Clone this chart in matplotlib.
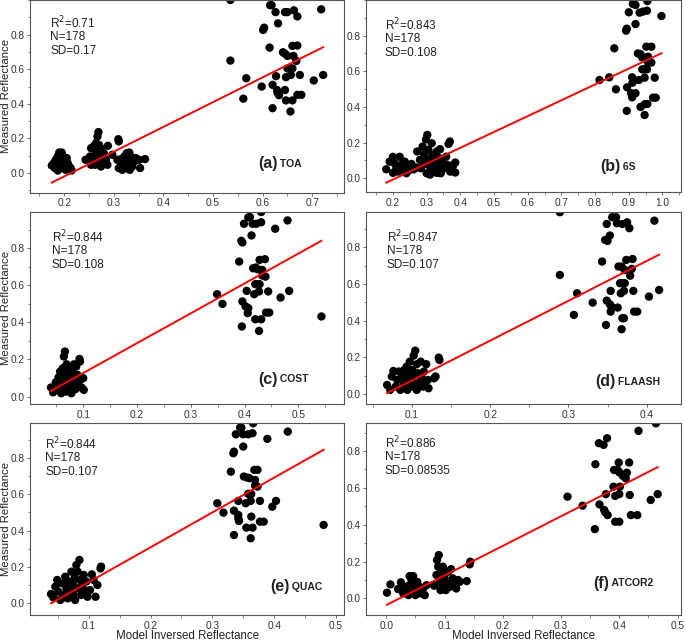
import numpy as np
import matplotlib
matplotlib.use("Agg")
import matplotlib.pyplot as plt
from matplotlib.ticker import MultipleLocator, FixedLocator, FormatStrFormatter

plt.rcParams['font.family'] = ['Liberation Sans', 'DejaVu Sans']

# (a) TOA
a_x = [0.175, 0.183, 0.187, 0.19, 0.195, 0.197, 0.199, 0.181, 0.187, 0.192, 0.2, 0.203, 0.207, 0.21, 0.213,
       0.215, 0.205, 0.193, 0.187, 0.179,
       0.243, 0.252, 0.254, 0.259, 0.264, 0.267, 0.269, 0.267, 0.27, 0.274, 0.264, 0.259, 0.262, 0.274, 0.277,
       0.28, 0.284, 0.287, 0.288, 0.297, 0.274, 0.254, 0.268,
       0.309, 0.31, 0.307, 0.31, 0.317, 0.321, 0.326, 0.331, 0.334, 0.329, 0.323, 0.332, 0.337, 0.341, 0.344,
       0.351, 0.353, 0.363, 0.317, 0.314,
       0.535, 0.535, 0.567, 0.561, 0.598, 0.614, 0.601, 0.603, 0.615, 0.618, 0.626, 0.631, 0.645, 0.65, 0.663,
       0.67, 0.718, 0.62, 0.62, 0.629, 0.63, 0.633, 0.641, 0.645, 0.65, 0.647, 0.645, 0.647, 0.65, 0.655, 0.66,
       0.657, 0.656, 0.66, 0.66, 0.662, 0.668, 0.67, 0.675, 0.67, 0.678, 0.703, 0.722, 0.627]
a_y = [0.044, 0.077, 0.096, 0.119, 0.119, 0.096, 0.077, 0.029, 0.015, 0.029, 0.042, 0.019, 0.058, 0.038, 0.029,
       0.015, 0.087, 0.058, 0.048, 0.058,
       0.077, 0.096, 0.144, 0.154, 0.173, 0.212, 0.237, 0.135, 0.163, 0.144, 0.115, 0.087, 0.048, 0.096, 0.058,
       0.115, 0.077, 0.048, 0.158, 0.106, 0.038, 0.048, 0.087,
       0.196, 0.183, 0.077, 0.029, 0.058, 0.096, 0.115, 0.119, 0.096, 0.058, 0.029, 0.019, 0.038, 0.067, 0.087,
       0.077, 0.029, 0.081, 0.019, 0.08,
       1.0, 0.65, 0.548, 0.43, 0.5, 0.725, 0.827, 0.84, 0.97, 0.97, 0.93, 0.865, 0.93, 0.93, 0.94,
       0.905, 0.946, 0.51, 0.375, 0.48, 0.465, 0.45, 0.698, 0.69, 0.677, 0.554, 0.48, 0.42, 0.605, 0.605, 0.605,
       0.567, 0.356, 0.735, 0.42, 0.677, 0.648, 0.737, 0.567, 0.452, 0.452, 0.535, 0.567, 0.56]

# (b) 6S
b_x = [0.18, 0.19, 0.2, 0.205, 0.21, 0.215, 0.22, 0.225, 0.23, 0.235, 0.24, 0.245, 0.25, 0.255, 0.262,
       0.272, 0.28, 0.283, 0.288, 0.292, 0.295, 0.298, 0.302, 0.3, 0.305, 0.308, 0.31, 0.315, 0.318, 0.322,
       0.325, 0.33, 0.332, 0.338, 0.34, 0.342, 0.348, 0.352, 0.358, 0.362, 0.365, 0.369, 0.37, 0.378, 0.385,
       0.385, 0.2, 0.27, 0.31, 0.33, 0.296, 0.318,
       0.813, 0.842, 0.862, 0.857, 0.892, 0.894, 0.9, 0.895, 0.894, 0.912, 0.92, 0.92, 0.91, 0.911, 0.907,
       0.91, 0.92, 0.927, 0.935, 0.93, 0.935, 0.947, 0.932, 0.942, 0.954, 0.955, 0.94, 0.947, 0.954, 0.94,
       0.947, 0.947, 0.952, 0.967, 0.957, 0.957, 0.967, 0.972, 0.98, 0.977, 0.997, 0.955]
b_y = [0.05, 0.093, 0.12, 0.084, 0.056, 0.037, 0.12, 0.075, 0.047, 0.093, 0.028, 0.07, 0.047, 0.08, 0.05,
       0.15, 0.103, 0.056, 0.178, 0.136, 0.08, 0.218, 0.243, 0.028, 0.159, 0.107, 0.065, 0.196, 0.131, 0.037,
       0.093, 0.15, 0.065, 0.112, 0.163, 0.028, 0.084, 0.056, 0.121, 0.075, 0.192, 0.206, 0.037, 0.07, 0.088,
       0.032, 0.03, 0.06, 0.02, 0.03, 0.115, 0.09,
       0.551, 0.566, 0.499, 0.729, 0.828, 0.839, 0.931, 0.51, 0.378, 0.978, 0.972, 0.865, 0.566, 0.536, 0.477,
       0.454, 0.477, 0.7, 0.696, 0.551, 0.4, 0.415, 0.929, 0.935, 0.94, 0.994, 0.611, 0.611, 0.611, 0.677,
       0.564, 0.355, 0.738, 0.738, 0.682, 0.649, 0.649, 0.452, 0.452, 0.564, 0.91, 0.417]

# (c) COST
c_x = [0.04, 0.044, 0.049, 0.052, 0.054, 0.056, 0.057, 0.059, 0.06, 0.062, 0.063, 0.064, 0.066, 0.067, 0.068,
       0.069, 0.07, 0.072, 0.073, 0.075, 0.077, 0.078, 0.08, 0.081, 0.083, 0.085, 0.086, 0.089, 0.091, 0.093,
       0.094, 0.094, 0.097, 0.1, 0.101, 0.081, 0.087, 0.058, 0.065, 0.072, 0.079,
       0.349, 0.359, 0.39, 0.394, 0.396, 0.395, 0.396, 0.404, 0.402, 0.406, 0.407, 0.399, 0.407, 0.41, 0.413,
       0.415, 0.422, 0.416, 0.421, 0.418, 0.42, 0.42, 0.424, 0.428, 0.424, 0.427, 0.428, 0.438, 0.427, 0.431,
       0.431, 0.431, 0.433, 0.433, 0.439, 0.444, 0.44, 0.446, 0.457, 0.467, 0.48, 0.483, 0.543]
c_y = [0.049, 0.023, 0.077, 0.036, 0.103, 0.063, 0.135, 0.018, 0.09, 0.153, 0.054, 0.216, 0.243, 0.117, 0.027,
       0.174, 0.072, 0.135, 0.045, 0.099, 0.158, 0.018, 0.063, 0.126, 0.174, 0.085, 0.041, 0.117, 0.063, 0.203,
       0.189, 0.09, 0.049, 0.099, 0.036, 0.162, 0.162, 0.11, 0.04, 0.06, 0.03,
       0.552, 0.5, 0.728, 0.84, 0.831, 0.378, 0.513, 0.57, 0.486, 0.45, 0.477, 0.932, 0.966, 0.968, 0.869,
       0.932, 0.932, 0.692, 0.696, 0.552, 0.417, 0.606, 0.606, 0.606, 0.687, 0.567, 0.737, 0.741, 0.354, 0.417,
       0.94, 0.995, 0.683, 0.653, 0.647, 0.567, 0.453, 0.453, 0.905, 0.534, 0.95, 0.57, 0.432]

# (d) FLAASH
d_x = [0.068, 0.072, 0.074, 0.076, 0.079, 0.081, 0.083, 0.085, 0.087, 0.089, 0.09, 0.093, 0.094, 0.095, 0.096,
       0.097, 0.099, 0.1, 0.101, 0.102, 0.104, 0.106, 0.106, 0.107, 0.109, 0.111, 0.112, 0.114, 0.115, 0.118,
       0.12, 0.121, 0.128, 0.13, 0.134, 0.135, 0.115, 0.092, 0.104,
       0.289, 0.289, 0.307, 0.311, 0.331, 0.343, 0.347, 0.35, 0.349, 0.353, 0.349, 0.348, 0.353, 0.355, 0.354,
       0.354, 0.356, 0.361, 0.362, 0.363, 0.364, 0.368, 0.366, 0.369, 0.372, 0.367, 0.369, 0.368, 0.369, 0.375,
       0.371, 0.372, 0.374, 0.378, 0.379, 0.381, 0.382, 0.383, 0.384, 0.388, 0.403, 0.41, 0.416, 0.371]
d_y = [0.049, 0.022, 0.095, 0.125, 0.04, 0.076, 0.122, 0.022, 0.095, 0.049, 0.131, 0.149, 0.022, 0.067, 0.104,
       0.176, 0.04, 0.131, 0.085, 0.209, 0.236, 0.022, 0.162, 0.113, 0.058, 0.176, 0.085, 0.04, 0.122, 0.162,
       0.076, 0.031, 0.085, 0.095, 0.198, 0.185, 0.058, 0.07, 0.05,
       0.991, 0.649, 0.431, 0.549, 0.498, 0.722, 0.84, 0.835, 0.927, 0.864, 0.509, 0.376, 0.489, 0.476, 0.449,
       0.562, 0.964, 0.964, 0.931, 0.471, 0.695, 0.695, 0.604, 0.604, 0.604, 0.549, 0.413, 0.353, 0.927, 0.936,
       0.562, 0.676, 0.731, 0.904, 0.645, 0.682, 0.736, 0.562, 0.449, 0.449, 0.531, 0.945, 0.567, 0.413]

# (e) QUAC
e_x = [0.039, 0.043, 0.046, 0.049, 0.051, 0.054, 0.057, 0.059, 0.062, 0.064, 0.066, 0.068, 0.07, 0.072, 0.073,
       0.075, 0.077, 0.078, 0.08, 0.082, 0.084, 0.085, 0.086, 0.088, 0.089, 0.092, 0.093, 0.096, 0.098, 0.102,
       0.105, 0.111, 0.114, 0.119, 0.12, 0.108, 0.06, 0.075,
       0.308, 0.318, 0.33, 0.334, 0.335, 0.335, 0.335, 0.342, 0.342, 0.343, 0.342, 0.338, 0.345, 0.347, 0.35,
       0.35, 0.358, 0.351, 0.357, 0.354, 0.355, 0.358, 0.36, 0.363, 0.36, 0.363, 0.365, 0.366, 0.368, 0.373,
       0.362, 0.365, 0.369, 0.369, 0.373, 0.377, 0.377, 0.383, 0.389, 0.397, 0.403, 0.422, 0.48, 0.362]
e_y = [0.048, 0.028, 0.089, 0.126, 0.061, 0.015, 0.107, 0.043, 0.144, 0.079, 0.024, 0.117, 0.061, 0.172, 0.033,
       0.098, 0.135, 0.015, 0.209, 0.172, 0.079, 0.237, 0.126, 0.043, 0.098, 0.154, 0.07, 0.117, 0.033, 0.07,
       0.157, 0.033, 0.098, 0.19, 0.2, 0.126, 0.03, 0.05,
       0.551, 0.499, 0.726, 0.828, 0.837, 0.375, 0.51, 0.486, 0.468, 0.453, 0.564, 0.933, 0.97, 0.97, 0.865,
       0.933, 0.933, 0.699, 0.693, 0.551, 0.416, 0.603, 0.603, 0.603, 0.69, 0.477, 0.939, 0.994, 0.736, 0.736,
       0.357, 0.416, 0.68, 0.649, 0.643, 0.564, 0.449, 0.449, 0.908, 0.532, 0.564, 0.948, 0.431, 0.564]

# (f) ATCOR2
f_x = [0.001, 0.007, 0.02, 0.025, 0.029, 0.031, 0.034, 0.037, 0.038, 0.04, 0.043, 0.045, 0.046, 0.049, 0.05,
       0.053, 0.054, 0.057, 0.06, 0.063, 0.066, 0.069, 0.082, 0.086, 0.087, 0.089, 0.09, 0.091, 0.093, 0.094,
       0.096, 0.097, 0.1, 0.102, 0.104, 0.106, 0.109, 0.111, 0.114, 0.117, 0.12, 0.123, 0.126, 0.138, 0.143,
       0.144, 0.042, 0.048,
       0.311, 0.337, 0.359, 0.358, 0.365, 0.373, 0.379, 0.366, 0.374, 0.376, 0.38, 0.377, 0.39, 0.391, 0.397,
       0.393, 0.393, 0.4, 0.399, 0.4, 0.401, 0.4, 0.406, 0.411, 0.413, 0.417, 0.418, 0.42, 0.431, 0.433, 0.454,
       0.463, 0.466]
f_y = [0.031, 0.076, 0.051, 0.087, 0.027, 0.054, 0.036, 0.067, 0.018, 0.121, 0.1, 0.045, 0.121, 0.072, 0.018,
       0.09, 0.045, 0.063, 0.027, 0.054, 0.018, 0.072, 0.069, 0.127, 0.208, 0.172, 0.235, 0.1, 0.045, 0.145,
       0.072, 0.172, 0.109, 0.045, 0.081, 0.145, 0.063, 0.159, 0.109, 0.081, 0.054, 0.1, 0.09, 0.094, 0.185,
       0.199, 0.035, 0.04,
       0.552, 0.503, 0.728, 0.376, 0.842, 0.833, 0.869, 0.51, 0.48, 0.467, 0.452, 0.566, 0.606, 0.697, 0.697,
       0.556, 0.416, 0.416, 0.737, 0.684, 0.606, 0.566, 0.665, 0.652, 0.682, 0.737, 0.561, 0.452, 0.452, 0.909,
       0.534, 0.95, 0.566]

labels = ["(a)", "(b)", "(c)", "(d)", "(e)", "(f)"]
methods = ["TOA", "6S", "COST", "FLAASH", "QUAC", "ATCOR2"]
r2 = ["0.71", "0.843", "0.844", "0.847", "0.844", "0.886"]
sd = ["0.17", "0.108", "0.108", "0.107", "0.107", "0.08535"]
n_obs = 178
# fitted lines: slope, intercept
slopes = [1.43, 0.889, 1.61, 2.17, 1.93, 1.605]
intercepts = [-0.305, -0.185, -0.034, -0.143, -0.079, -0.036]
y_ticks = [0.0, 0.2, 0.4, 0.6, 0.8]

xs = [a_x, b_x, c_x, d_x, e_x, f_x]
ys = [a_y, b_y, c_y, d_y, e_y, f_y]

xlims = [(0.131, 0.764), (0.12, 1.055), (0.001, 0.585), (0.041, 0.444), (0.005, 0.513), (-0.035, 0.506)]
ylims = [(-0.112, 1.0), (-0.079, 1.0), (-0.04, 0.997), (-0.055, 0.994), (-0.068, 0.994), (-0.09, 0.95)]

# axes boxes in pixels: left, top, right, bottom
W, H = 685, 641
boxes = [(30, 0, 344, 192.5), (366, 0, 681, 192.3),
         (30, 211.7, 344, 404), (366, 211.7, 681, 404),
         (30, 423.3, 344, 615), (366, 423.3, 681, 615)]
lab_pos = [(0.726, 0.149), (0.743, 0.133), (0.726, 0.13), (0.727, 0.116), (0.764, 0.148), (0.72, 0.165)]
txt_pos = [(0.064, 0.88), (0.06, 0.87), (0.069, 0.867), (0.066, 0.867), (0.048, 0.89), (0.06, 0.896)]

fig = plt.figure(figsize=(6.85, 6.41), dpi=100)
tc = "#333333"
for i in range(6):
    l, t, r, b = boxes[i]
    ax = fig.add_axes([l / W, 1 - b / H, (r - l) / W, (b - t) / H])
    x = np.array(xs[i])
    y = np.array(ys[i])
    ax.scatter(x, y, s=36, c="black", edgecolors="none", zorder=2)
    lx = np.array([x.min(), x.max()])
    ax.plot(lx, slopes[i] * lx + intercepts[i], color="red", lw=1.4, zorder=3)
    ax.set_xlim(*xlims[i])
    ax.set_ylim(*ylims[i])
    ax.xaxis.set_major_locator(MultipleLocator(0.1))
    ax.xaxis.set_minor_locator(MultipleLocator(0.05))
    ax.yaxis.set_major_locator(FixedLocator(y_ticks))
    ax.yaxis.set_minor_locator(MultipleLocator(0.1))
    ax.xaxis.set_major_formatter(FormatStrFormatter("%.1f"))
    ax.yaxis.set_major_formatter(FormatStrFormatter("%.1f"))
    ax.tick_params(which="major", direction="out", length=2.5, width=0.6, colors="#555555",
                   labelsize=7.3, labelcolor=tc, pad=1.5)
    ax.tick_params(which="minor", direction="out", length=1.8, width=0.5, colors="#555555")
    for sp in ax.spines.values():
        sp.set_color("#555555")
        sp.set_linewidth(0.8)
    tx, ty = txt_pos[i]
    dy = 14.0 / (b - t)
    for k, s in enumerate(["R$^2$=" + r2[i], "N=" + str(n_obs), "SD=" + sd[i]]):
        ax.text(tx, ty - k * dy, s, transform=ax.transAxes, fontsize=8.5, color="#222222",
                va="center", ha="left")
    lx0, ly0 = lab_pos[i]
    t1 = ax.text(lx0, ly0, labels[i], transform=ax.transAxes, fontsize=11.5, fontweight="bold",
                 color="#222222", va="center", ha="left")
    ax.annotate(" " + methods[i], xycoords=t1, xy=(1, 0.5), va="center", ha="left",
                fontsize=7.5, fontweight="bold", color="#222222")
    if i % 2 == 0:
        ax.set_ylabel("Measured Reflectance", fontsize=8.2, color="#222222")
        ax.yaxis.set_label_coords(-0.062, 0.5)
    if i >= 4:
        ax.set_xlabel("Model Inversed Reflectance", fontsize=8.3, color="#222222")
        ax.xaxis.set_label_coords(0.5, -0.077)

fig.savefig("out.png", dpi=100)
